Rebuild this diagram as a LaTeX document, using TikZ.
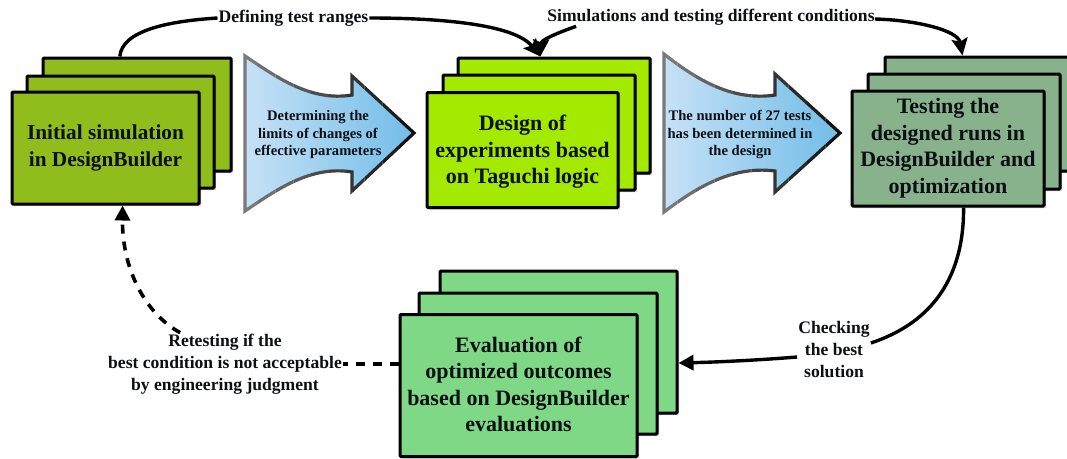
\documentclass[tikz,border=0pt]{standalone}
\usepackage{fontspec}
\setmainfont{Liberation Serif}
\usetikzlibrary{arrows.meta,calc,shadows}
\definecolor{inka}{HTML}{0C0F14}
\definecolor{colA}{HTML}{90BD1C}
\definecolor{colB}{HTML}{A3E900}
\definecolor{colC}{HTML}{88B28C}
\definecolor{colD}{HTML}{7ED886}
\definecolor{blueL}{HTML}{C6E1F6}
\definecolor{blueR}{HTML}{72BDE8}
\tikzset{
  x=1pt,y=-1pt,
  card/.style n args={3}{draw=black,line width=3pt,rounded corners=1pt,minimum width=#1,minimum height=#2,inner sep=0pt,fill=#3,
    drop shadow={shadow xshift=2pt,shadow yshift=-2pt,opacity=.22,fill=black}},
  cardtext/.style={font=\bfseries\fontsize{22}{26.5}\selectfont,text=inka,align=center,inner sep=0pt},
  flowtext/.style={font=\bfseries\fontsize{14.6}{17.5}\selectfont,text=inka,align=center,inner sep=0pt},
  tag/.style={font=\bfseries\fontsize{17.6}{22}\selectfont,text=inka,align=center,fill=white,inner sep=1pt},
  link/.style={draw=black,line width=3.4pt},
  dashlink/.style={draw=black,line width=3.6pt,dash pattern=on 9pt off 8pt},
  headS/.style={-{Stealth[length=17pt,width=16pt,inset=3pt]}},
  headT/.style={-{Triangle[length=15pt,width=15pt]}},
  flowA/.style={insert path={(245,56) .. controls (275,76) and (310,102) .. (352,95) -- (352,76) -- (414,133) -- (352,191) -- (352,172) .. controls (310,165) and (275,191) .. (245,211) -- cycle}},
  flowB/.style={insert path={(664,54) .. controls (692,76) and (730,102) .. (775,95) -- (775,74) -- (840,133) -- (775,192) -- (775,171) .. controls (730,165) and (692,191) .. (664,212) -- cycle}},
}
\newcommand{\gradedge}[3]{%
  \foreach \i in {0,...,9}{%
    \pgfmathsetmacro{\shade}{48-\i*4.6}%
    \begin{scope}
      \clip ({#2+\i*(#3-#2)/10},0) rectangle ({#2+(\i+1)*(#3-#2)/10},458);
      \draw[#1,line width=3.2pt,draw=white!\shade!black,miter limit=10];
    \end{scope}}}
\begin{document}
\begin{tikzpicture}
\useasboundingbox (0,0) rectangle (1067,458);
\clip (0,0) rectangle (1067,458);

% stack 1
\node[card={188pt}{113pt}{colA}] (s1b) at (137,114.5) {};
\node[card={187pt}{112pt}{colA}] (s1m) at (120.5,132) {};
\node[card={187pt}{112pt}{colA}] (s1f) at (105.5,148) {};
\node[cardtext,font=\bfseries\fontsize{21.3}{26.5}\selectfont] (s1t) at (105.5,148) {Initial simulation\\in DesignBuilder};

% stack 2
\node[card={192pt}{115pt}{colB}] (s2b) at (554,115.5) {};
\node[card={192pt}{115pt}{colB}] (s2m) at (539,132.5) {};
\node[card={191pt}{115pt}{colB}] (s2f) at (522.5,150) {};
\node[cardtext] (s2t) at (522.5,152) {Design of\\experiments based\\on Taguchi logic};

% stack 3
\node[card={192pt}{114pt}{colC}] (s3b) at (981,114) {};
\node[card={192pt}{115pt}{colC}] (s3m) at (964,131.5) {};
\node[card={192pt}{115pt}{colC}] (s3f) at (948,148.5) {};
\node[cardtext] (s3t) at (948,148) {Testing the\\designed runs in\\DesignBuilder and\\optimization};

% stack 4
\node[card={237pt}{142pt}{colD}] (s4b) at (558.5,342) {};
\node[card={238pt}{141pt}{colD}] (s4m) at (538,363.5) {};
\node[card={237pt}{142pt}{colD}] (s4f) at (518.5,385.5) {};
\node[cardtext] (s4t) at (518.5,384.5) {Evaluation of\\optimized outcomes\\based on DesignBuilder\\evaluations};

% block arrows
\shade[flowA,left color=blueL,right color=blueR];
\gradedge{flowA}{240}{418}
\shade[flowB,left color=blueL,right color=blueR];
\gradedge{flowB}{659}{844}
\node[flowtext] (f1t) at (318,134.5) {Determining the\\limits of changes of\\effective parameters};
\node[flowtext] (f2t) at (740,134.5) {The number of 27 tests\\has been determined in\\the design};

% labels
\node[tag] (l1) at (293.5,18) {Defining test ranges};
\node[tag] (l2) at (711,17) {Simulations and testing different conditions};
\node[tag] (l3) at (834,349) {Checking\\the best\\solution};
\node[tag] (l4) at (225,364) {Retesting if the\\best condition is not acceptable\\by engineering judgment};

% connectors
\coordinate (e1) at ($(s1b.north west)!0.41!(s1b.north east)$);
\coordinate (e2) at ($(s2b.north west)!0.43!(s2b.north east)$);
\coordinate (e3) at ($(s3b.north west)!0.405!(s3b.north east)$);
\coordinate (e4) at ([yshift=-21pt]s4b.east);
\coordinate (e5) at ($(s3f.south west)!0.58!(s3f.south east)$);
\coordinate (e6) at ($(s1f.south west)!0.59!(s1f.south east)$);
\draw[link] (e1) .. controls (122,30) and (170,21) .. (l1.west);
\draw[link,headS] (l1.east) .. controls (445,18) and (515,25) .. (e2);
\draw[link,headS] ($(l2.south west)+(30,0)$) .. controls (557,33) and (541,40) .. (e2);
\draw[link,headS] ($(l2.east)+(-1,2)$) .. controls (915,20) and (958,30) .. (e3);
\draw[link] (e5) .. controls (964,285) and (925,325) .. ($(l3.east)+(0,-6)$);
\draw[link,headT] ($(l3.west)+(0,8)$) .. controls (760,360) and (720,362) .. (e4);
\draw[dashlink] (s4f.west |- l4.east) -- (l4.east);
\draw[dashlink,headT] ($(l4.north west)!0.31!(l4.north east)$) .. controls (146,314) and (122,270) .. (e6);
\end{tikzpicture}
\end{document}
